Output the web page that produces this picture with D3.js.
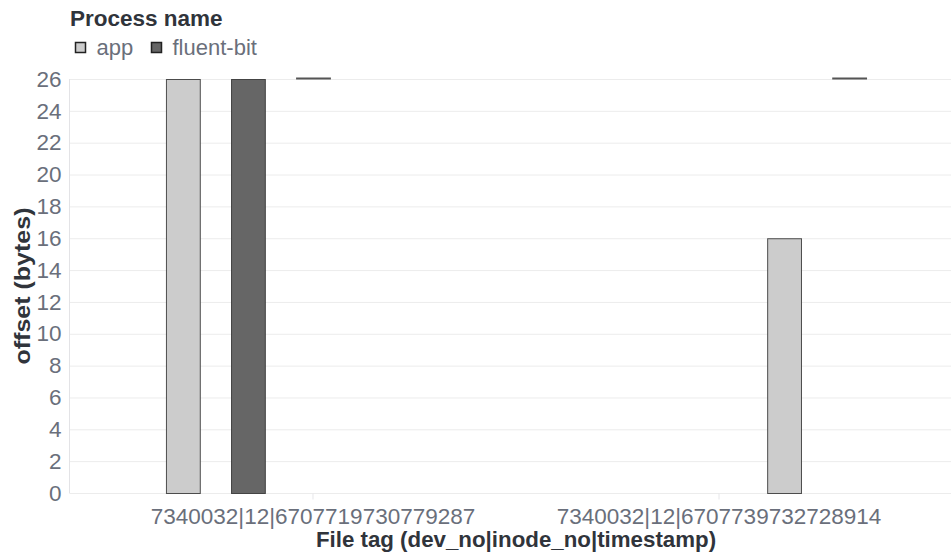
<!DOCTYPE html>
<html>
<head>
<meta charset="utf-8">
<script src="https://cdn.jsdelivr.net/npm/d3@7/dist/d3.min.js"></script>
<style>
  html, body { margin: 0; padding: 0; background: #fff; }
  svg { display: block; font-family: "Liberation Sans", Arial, Helvetica, sans-serif; }
</style>
</head>
<body>
<svg id="chart" width="951" height="553"></svg>
<script>
// ---- data ----
const categories = ["7340032|12|6707719730779287", "7340032|12|6707739732728914"];
const offsetSlots = ["0", "1", "2", "3", "4"];
const processes = ["app", "fluent-bit"];
const processColors = ["#cccccc", "#666666"];
const barCategory = [0, 0, 0, 1, 1];
const barSlot = ["0", "1", "2", "3", "4"];
const barProcess = ["app", "fluent-bit", null, "app", null];
const barStart = [0, 0, 26, 0, 26];
const barEnd = [26, 26, 26, 16, 26];
const yTicks = [0, 2, 4, 6, 8, 10, 12, 14, 16, 18, 20, 22, 24, 26];
const xTitle = "File tag (dev_no|inode_no|timestamp)";
const yTitle = "offset (bytes)";
const legendTitle = "Process name";

// ---- layout ----
const svg = d3.select("#chart");
const mLeft = 70, mTop = 79, mBottom = 493, plotW = 892;
const labelColor = "#6a6f7b", titleColor = "#30343b", gridColor = "#ececec";

const x = d3.scaleBand().domain(categories).range([mLeft, mLeft + plotW])
  .paddingInner(0).paddingOuter(0.0985);
const xo = d3.scaleBand().domain(offsetSlots).range([0, x.bandwidth()])
  .paddingInner(0.48).paddingOuter(0.86);
const y = d3.scaleLinear().domain([0, 26]).range([mBottom, mTop]);
const color = d3.scaleOrdinal().domain(processes).range(processColors);

// grid
svg.append("g").selectAll("line").data(yTicks).join("line")
  .attr("x1", mLeft).attr("x2", 951)
  .attr("y1", d => y(d) + 0.5).attr("y2", d => y(d) + 0.5)
  .attr("stroke", gridColor).attr("stroke-width", 1);

// y axis
const yAxis = svg.append("g").attr("transform", `translate(${mLeft - 0.5},0)`)
  .call(d3.axisLeft(y).tickValues(yTicks).tickSize(0).tickPadding(8));
yAxis.select(".domain").attr("stroke", "#e3e3e6").attr("d", `M0,${mTop}V${mBottom + 0.5}`);
yAxis.selectAll("text").attr("fill", labelColor).style("font-size", "22.5px")
  .attr("font-family", "Liberation Sans, Arial, sans-serif");

// x axis
const xAxis = svg.append("g").attr("transform", `translate(0,${mBottom + 0.5})`)
  .call(d3.axisBottom(x).tickSize(6).tickPadding(6));
xAxis.select(".domain").remove();
xAxis.selectAll("line").attr("stroke", "#e6e6e9");
xAxis.selectAll("text").attr("fill", labelColor).style("font-size", "22.5px")
  .attr("font-family", "Liberation Sans, Arial, sans-serif")
  .attr("dy", "0.8em");

// bars
const idx = d3.range(barCategory.length);
const bars = svg.append("g");
bars.selectAll("rect").data(idx.filter(i => barEnd[i] !== barStart[i])).join("rect")
  .attr("x", i => x(categories[barCategory[i]]) + xo(barSlot[i]) + 0.5)
  .attr("width", xo.bandwidth())
  .attr("y", i => y(Math.max(barStart[i], barEnd[i])) + 0.5)
  .attr("height", i => Math.abs(y(barStart[i]) - y(barEnd[i])))
  .attr("fill", i => barProcess[i] ? color(barProcess[i]) : "#555")
  .attr("stroke", "#333").attr("stroke-opacity", 0.85).attr("stroke-width", 1);
bars.selectAll("line").data(idx.filter(i => barEnd[i] === barStart[i])).join("line")
  .attr("x1", i => x(categories[barCategory[i]]) + xo(barSlot[i]))
  .attr("x2", i => x(categories[barCategory[i]]) + xo(barSlot[i]) + xo.bandwidth() + 1)
  .attr("y1", i => y(barEnd[i]) - 0.5).attr("y2", i => y(barEnd[i]) - 0.5)
  .attr("stroke", "#555").attr("stroke-width", 2);

// axis titles
const c0 = x(categories[0]) + x.bandwidth() / 2, c1 = x(categories[1]) + x.bandwidth() / 2;
svg.append("text").attr("x", (c0 + c1) / 2)
  .attr("y", 547).attr("text-anchor", "middle")
  .attr("fill", titleColor).style("font-size", "22.3px").style("font-weight", "bold")
  .text(xTitle);
svg.append("text").attr("transform", `translate(30,${(mTop + mBottom) / 2}) rotate(-90)`)
  .attr("text-anchor", "middle")
  .attr("textLength", 157).attr("lengthAdjust", "spacingAndGlyphs")
  .attr("fill", titleColor).style("font-size", "22px").style("font-weight", "bold")
  .text(yTitle);

// legend
const lg = svg.append("g");
lg.append("text").attr("x", 70).attr("y", 25.5).attr("fill", titleColor)
  .style("font-size", "22.5px").style("font-weight", "bold").text(legendTitle);
const legendX = [75.5, 151.5];
processes.forEach((p, i) => {
  lg.append("rect").attr("x", legendX[i]).attr("y", 42.5).attr("width", 10).attr("height", 10)
    .attr("fill", color(p)).attr("stroke", "#222").attr("stroke-width", 1.5);
  lg.append("text").attr("x", legendX[i] + 21).attr("y", 55).attr("fill", labelColor)
    .style("font-size", "22px").text(p);
});
</script>
</body>
</html>
